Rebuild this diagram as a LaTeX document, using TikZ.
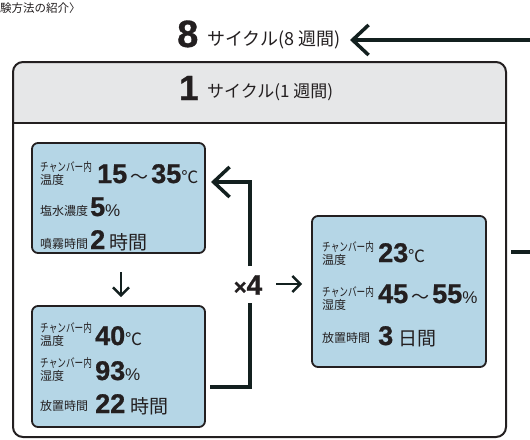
\documentclass[tikz,border=0pt]{standalone}
\usepackage{fontspec}
\usepackage{graphicx}
\setmainfont{Noto Sans CJK JP}
\newfontfamily\numf{Liberation Sans}[BoldFeatures={FakeBold=0.9}]
\usetikzlibrary{arrows.meta}
\definecolor{boxblue}{HTML}{B5D6E6}
\definecolor{hdrgray}{HTML}{E6E7E8}
\definecolor{ink}{HTML}{231F20}
\definecolor{arrowink}{HTML}{13201F}
\newcommand\kcond[1]{\scalebox{0.72}[1]{#1}}
\newcommand\bignum[1]{{\numf\bfseries\fontsize{27}{27}\selectfont #1}}
\newcommand\unitsm[1]{{\fontsize{17}{17}\selectfont #1}}
\newcommand\unitpc{{\numf\fontsize{17}{17}\selectfont \%}}
\newcommand\unitjp[1]{{\fontsize{19}{19}\selectfont #1}}
\newcommand\wave{\kern3pt{\fontsize{18}{18}\selectfont ～}\kern3pt}
\begin{document}
\begin{tikzpicture}[x=1pt,y=-1pt,
  lbl/.style={anchor=base west,inner sep=0pt,font=\fontsize{12}{12}\selectfont,text=ink},
  val/.style={anchor=base west,inner sep=0pt,text=ink},
  condbox/.style={draw=ink,line width=1.8pt,fill=boxblue,rounded corners=6pt,inner sep=0pt},
  conn/.style={draw=arrowink,line width=3.5pt},
  chev/.style={-{Straight Barb[length=16pt,width=30pt,line width=3.5pt]}},
  chevsm/.style={-{Straight Barb[length=8pt,width=16pt,line width=2.4pt]}}]
\useasboundingbox (0,0) rectangle (530,439);
\clip (0,0) rectangle (530,439);

% caption at top left
\node[anchor=base west,inner sep=0pt,font=\fontsize{11.5}{11.5}\selectfont,text=ink] (cap) at (0,12.5) {験方法の紹介〉};

% top title
\node[val,font=\numf\bfseries\fontsize{38}{38}\selectfont] (t8) at (177,47) {8};
\node[val,font=\fontsize{18}{18}\selectfont] (t8txt) at (207,45) {サイクル(8 週間)};

% outer container
\begin{scope}
  \clip[rounded corners=10pt] (13,62) rectangle (506,437);
  \fill[hdrgray] (13,62) rectangle (506,123);
\end{scope}
\draw[ink,line width=1.3pt] (13,123) -- (506,123);
\node[draw=ink,line width=2pt,rounded corners=10pt,inner sep=0pt,minimum width=493pt,minimum height=375pt] (outer) at (259.5,249.5) {};

\node[val,font=\numf\bfseries\fontsize{35}{35}\selectfont] (t1) at (179,100) {1};
\node[val,font=\fontsize{17}{17}\selectfont] (t1txt) at (207,97) {サイクル(1 週間)};

% boxes
\node[condbox,minimum width=173pt,minimum height=110pt] (boxA) at (118.5,198) {};
\node[condbox,minimum width=173pt,minimum height=121pt] (boxB) at (118.5,366.5) {};
\node[condbox,minimum width=174pt,minimum height=151pt] (boxC) at (399,291.5) {};

% box A contents
\node[lbl] (a1l1) at (40,171) {\kcond{チャンバー内}};
\node[lbl] (a1l2) at (40,184) {温度};
\node[val] (a1v) at (97,183) {\bignum{15}\wave\bignum{35}\unitsm{℃}};
\node[lbl] (a2l) at (40,215) {塩水濃度};
\node[val] (a2v) at (90,216) {\bignum{5}\unitpc};
\node[lbl] (a3l) at (40,248) {噴霧時間};
\node[val] (a3v) at (90,249) {\bignum{2}\kern4pt\unitjp{時間}};

% box B contents
\node[lbl] (b1l1) at (40,332) {\kcond{チャンバー内}};
\node[lbl] (b1l2) at (40,345) {温度};
\node[val] (b1v) at (95,345) {\bignum{40}\unitsm{℃}};
\node[lbl] (b2l1) at (40,367) {\kcond{チャンバー内}};
\node[lbl] (b2l2) at (40,380) {湿度};
\node[val] (b2v) at (95,380) {\bignum{93}\unitpc};
\node[lbl] (b3l) at (40,410) {放置時間};
\node[val] (b3v) at (95,413) {\bignum{22}\kern5pt\unitjp{時間}};

% box C contents
\node[lbl] (c1l1) at (322,251) {\kcond{チャンバー内}};
\node[lbl] (c1l2) at (322,264) {温度};
\node[val] (c1v) at (378,262) {\bignum{23}\unitsm{℃}};
\node[lbl] (c2l1) at (322,296) {\kcond{チャンバー内}};
\node[lbl] (c2l2) at (322,309) {湿度};
\node[val] (c2v) at (378,303) {\bignum{45}\wave\bignum{55}\unitpc};
\node[lbl] (c3l) at (322,342) {放置時間};
\node[val] (c3v) at (378,345) {\bignum{3}\kern5pt\unitjp{日間}};

% x4 label
\node[anchor=center,inner sep=0pt,text=ink] (times4) at (248,285) {{\numf\bfseries\fontsize{22}{22}\selectfont ×}{\numf\bfseries\fontsize{28}{28}\selectfont 4}};

% connectors
\coordinate (loopin) at (210,387);
\coordinate (loopc1) at (250,387);
\coordinate (loopgap1) at (250,303);
\coordinate (loopgap2) at (250,266);
\coordinate (loopc2) at (250,182);
\coordinate (loopend) at (211,182);
\draw[conn] (loopin) -- (loopc1) -- (loopgap1);
\draw[conn,chev] (loopgap2) -- (loopc2) -- (loopend);

\coordinate (dnstart) at (121,272);
\coordinate (dnend) at (121,297);
\draw[draw=arrowink,line width=2.4pt,chevsm] (dnstart) -- (dnend);

\coordinate (rtstart) at (276,284);
\coordinate (rtend) at (302,284);
\draw[draw=arrowink,line width=2.4pt,chevsm] (rtstart) -- (rtend);

\coordinate (outA) at (511,252);
\coordinate (outB) at (545,252);
\coordinate (outC) at (545,40);
\coordinate (outD) at (350,40);
\draw[conn,chev] (outA) -- (outB) -- (outC) -- (outD);
\end{tikzpicture}
\end{document}
